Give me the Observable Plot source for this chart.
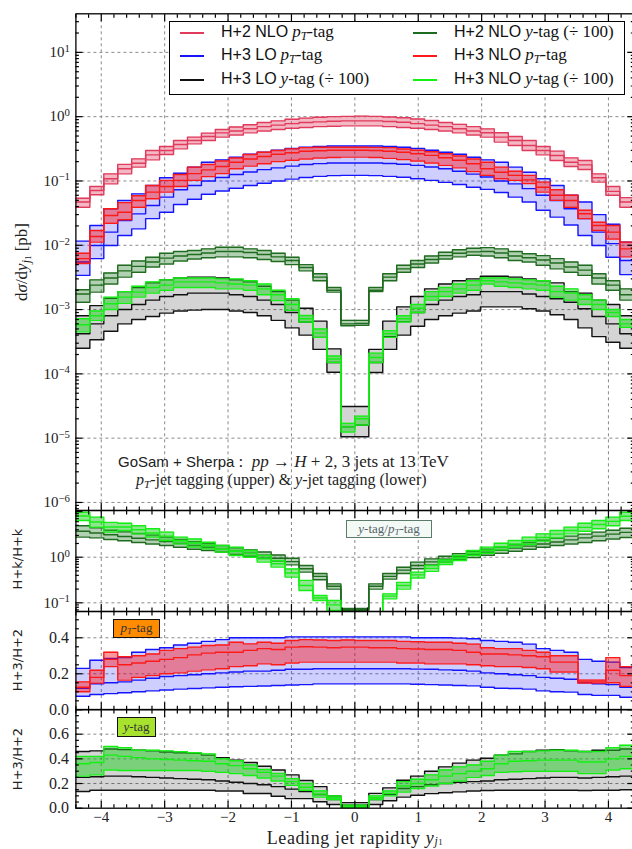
<!DOCTYPE html>
<html>
<head>
<meta charset="utf-8">
<script src="https://cdn.jsdelivr.net/npm/d3@7"></script>
<script src="https://cdn.jsdelivr.net/npm/@observablehq/plot@0.6"></script>
<style>
  html, body { margin: 0; padding: 0; background: #fff; overflow: hidden; }
  #fig { position: relative; width: 632px; height: 849px; overflow: hidden; background: #fff; }
  .serif { font-family: "Liberation Serif", "DejaVu Serif", serif; }
  .sans { font-family: "Liberation Sans", "DejaVu Sans", sans-serif; }
  .abs { position: absolute; white-space: nowrap; }
  .rot { position: absolute; white-space: nowrap; transform: translate(-50%, -50%) rotate(-90deg); }
  sub { font-size: 0.7em; vertical-align: -0.25em; line-height: 0; }
  sub.s2 { font-size: 0.75em; vertical-align: -0.15em; }
  sub.xl { font-size: 0.65em; vertical-align: -0.1em; }
  sub.xl2 { font-size: 0.75em; vertical-align: 0; }
  .legend { position: absolute; left: 169px; top: 21px; width: 454px; height: 72px; border: 1.3px solid #000; background: #fff; }
  .sw { position: absolute; height: 0; width: 24px; border-top: 2px solid; }
  .lt { position: absolute; line-height: 20px; color: #111; }
  .lt .sans { font-size: 16px; }
  .lt .serif { font-size: 17px; }
  .tagbox { position: absolute; line-height: 16px; font-size: 13px; text-align: center; box-sizing: border-box; }
</style>
</head>
<body>
<div id="fig"></div>
<script>
// Bin edges of the leading-jet rapidity histogram
const binEdges = [-4.4,-4.18,-3.96,-3.74,-3.52,-3.3,-3.08,-2.86,-2.64,-2.42,-2.2,-1.98,-1.76,-1.54,-1.32,-1.1,-0.88,-0.66,-0.44,-0.22,0,
  0.22,0.44,0.66,0.88,1.1,1.32,1.54,1.76,1.98,2.2,2.42,2.64,2.86,3.08,3.3,3.52,3.74,3.96,4.18,4.4];

// ---- dσ/dy [pb] : H+2 NLO, pT-jet tagging (lo / central / hi of scale band)
const h2ptLo  = [0.039,0.061,0.090,0.129,0.164,0.213,0.258,0.316,0.378,0.426,0.48,0.52,0.56,0.60,0.63,0.66,0.68,0.70,0.71,0.72,
                 0.72,0.72,0.70,0.68,0.66,0.63,0.60,0.56,0.52,0.481,0.402,0.356,0.298,0.255,0.208,0.168,0.151,0.096,0.060,0.039];
const h2ptMid = [0.047,0.071,0.108,0.155,0.189,0.255,0.298,0.369,0.426,0.492,0.56,0.60,0.65,0.70,0.74,0.78,0.81,0.83,0.85,0.86,
                 0.86,0.86,0.84,0.82,0.78,0.74,0.70,0.65,0.60,0.561,0.481,0.426,0.356,0.298,0.249,0.196,0.178,0.112,0.069,0.047];
const h2ptHi  = [0.054,0.082,0.129,0.181,0.221,0.298,0.344,0.425,0.48,0.554,0.63,0.69,0.75,0.81,0.86,0.91,0.95,0.98,1.0,1.01,
                 1.02,1.01,0.99,0.96,0.92,0.87,0.81,0.76,0.70,0.647,0.561,0.492,0.426,0.344,0.291,0.229,0.208,0.129,0.082,0.055];

// H+3 LO, pT-jet tagging
const h3loptLo  = [0.0034,0.0062,0.0099,0.0142,0.018,0.026,0.0327,0.043,0.052,0.062,0.070,0.077,0.085,0.092,0.100,0.107,0.113,0.118,0.121,0.122,
                   0.122,0.121,0.118,0.114,0.108,0.102,0.095,0.088,0.080,0.074,0.066,0.056,0.047,0.035,0.0274,0.0207,0.0142,0.0099,0.0065,0.0035];
const h3loptMid = [0.0055,0.0099,0.016,0.0243,0.0308,0.0416,0.056,0.073,0.085,0.100,0.113,0.126,0.138,0.150,0.160,0.170,0.180,0.186,0.19,0.19,
                   0.19,0.19,0.187,0.182,0.175,0.165,0.155,0.142,0.128,0.115,0.100,0.090,0.076,0.060,0.0497,0.037,0.026,0.016,0.0106,0.0058];
const h3loptHi  = [0.0116,0.0203,0.0369,0.0497,0.063,0.085,0.112,0.132,0.164,0.196,0.213,0.234,0.26,0.28,0.30,0.32,0.335,0.345,0.35,0.35,
                   0.35,0.35,0.345,0.335,0.32,0.30,0.28,0.26,0.234,0.213,0.196,0.164,0.137,0.108,0.085,0.060,0.047,0.030,0.0212,0.0112];

// H+3 NLO, pT-jet tagging
const h3nloptLo  = [0.0052,0.0112,0.022,0.0249,0.039,0.053,0.067,0.082,0.102,0.117,0.13,0.155,0.17,0.185,0.20,0.21,0.22,0.228,0.232,0.235,
                    0.235,0.232,0.225,0.215,0.205,0.19,0.175,0.16,0.14,0.122,0.108,0.102,0.091,0.067,0.05,0.039,0.026,0.017,0.0125,0.0066];
const h3nloptMid = [0.0062,0.0137,0.029,0.0327,0.0497,0.067,0.082,0.102,0.13,0.149,0.168,0.195,0.22,0.24,0.26,0.275,0.29,0.295,0.30,0.30,
                    0.30,0.297,0.29,0.28,0.265,0.25,0.23,0.21,0.185,0.155,0.137,0.122,0.104,0.08,0.06,0.0497,0.031,0.0203,0.016,0.0088];
const h3nloptHi  = [0.0075,0.017,0.037,0.046,0.059,0.085,0.102,0.126,0.164,0.18,0.205,0.228,0.258,0.28,0.298,0.316,0.33,0.335,0.335,0.335,
                    0.335,0.333,0.33,0.315,0.30,0.285,0.265,0.245,0.22,0.196,0.164,0.142,0.122,0.096,0.073,0.06,0.035,0.0228,0.0203,0.0112];

// y-jet tagging curves, shown divided by 100
const h2yLo  = [0.0013,0.00187,0.0025,0.0032,0.0038,0.0046,0.0051,0.0057,0.0061,0.0064,0.0066,0.0066,0.0064,0.006,0.0056,0.005,0.004,0.0028,0.00187,0.00056,
                0.00057,0.0019,0.0028,0.0038,0.0045,0.0053,0.0061,0.0066,0.007,0.0068,0.0064,0.0058,0.0055,0.0049,0.0043,0.0038,0.0034,0.0025,0.002,0.0014];
const h2yMid = [0.00175,0.0024,0.0031,0.004,0.0047,0.0055,0.0063,0.0068,0.0072,0.0076,0.008,0.008,0.0077,0.0072,0.0066,0.0058,0.0045,0.0032,0.002,0.0006,
                0.00061,0.002,0.0032,0.0043,0.0051,0.006,0.0069,0.0075,0.0079,0.008,0.0076,0.0068,0.0064,0.0059,0.0053,0.0046,0.0041,0.0031,0.0024,0.0017];
const h2yHi  = [0.00203,0.0029,0.0037,0.0049,0.0057,0.0065,0.0075,0.008,0.0083,0.0088,0.0093,0.0093,0.0088,0.0083,0.0075,0.0065,0.005,0.0036,0.0022,0.00068,
                0.00068,0.0022,0.0036,0.0049,0.0058,0.0068,0.0078,0.0085,0.009,0.0092,0.0088,0.008,0.0074,0.0069,0.0062,0.0055,0.0049,0.0036,0.0028,0.0021];

const h3loyLo  = [0.00025,0.00034,0.00046,0.0006,0.0007,0.00078,0.00088,0.00095,0.00098,0.001,0.001,0.00095,0.0009,0.0008,0.00068,0.00052,0.0004,0.00024,0.000106,0.0000105,
                  0.0000105,0.000105,0.00024,0.0004,0.00055,0.0007,0.0008,0.00088,0.00095,0.0011,0.0011,0.0011,0.00103,0.00095,0.00083,0.0007,0.00052,0.00038,0.00031,0.00025];
const h3loyMid = [0.00042,0.0006,0.0008,0.001,0.0012,0.0014,0.0016,0.0017,0.0018,0.0018,0.0018,0.0017,0.0016,0.0014,0.0012,0.0009,0.00064,0.00037,0.00015,0.000015,
                  0.000016,0.00015,0.00038,0.00065,0.0009,0.0012,0.0014,0.0016,0.0017,0.0019,0.0019,0.0019,0.00175,0.0016,0.00147,0.0013,0.00103,0.00078,0.0006,0.00042];
const h3loyHi  = [0.0008,0.00115,0.0015,0.0019,0.0022,0.0026,0.0029,0.0031,0.0032,0.0032,0.0031,0.0029,0.0027,0.0023,0.0019,0.0014,0.00105,0.00066,0.000245,0.000031,
                  0.000031,0.00024,0.00066,0.0011,0.0016,0.0021,0.0025,0.0028,0.003,0.0033,0.0033,0.0032,0.003,0.0028,0.0026,0.0019,0.0018,0.0014,0.0012,0.0008];

const h3nloyLo  = [0.00045,0.00068,0.001,0.00125,0.00156,0.0018,0.002,0.0022,0.0022,0.0022,0.0021,0.0021,0.002,0.0017,0.00138,0.00097,0.00064,0.00037,0.00015,0.0000125,
                   0.000016,0.00015,0.00037,0.00064,0.0009,0.0014,0.0016,0.0018,0.002,0.0025,0.0023,0.0022,0.0021,0.002,0.00156,0.0014,0.0012,0.001,0.00078,0.00053];
const h3nloyMid = [0.00058,0.0008,0.00123,0.00156,0.00187,0.0022,0.0024,0.0027,0.0027,0.0027,0.0026,0.0025,0.0024,0.0021,0.0017,0.0012,0.00072,0.00043,0.00017,0.000015,
                   0.00002,0.00018,0.00042,0.00072,0.00105,0.0016,0.0019,0.0021,0.0024,0.0028,0.0027,0.0026,0.0025,0.0024,0.0019,0.0018,0.00145,0.0012,0.0009,0.0006];
const h3nloyHi  = [0.00072,0.00095,0.00156,0.0019,0.0023,0.0027,0.0029,0.0031,0.0031,0.0031,0.003,0.003,0.0028,0.0025,0.002,0.00147,0.00081,0.0005,0.00019,0.000017,
                   0.000022,0.00021,0.00047,0.0008,0.0012,0.0019,0.0022,0.0025,0.0028,0.0031,0.0031,0.003,0.0029,0.0028,0.0023,0.0021,0.0017,0.0014,0.001,0.0007];

// ---- ratio y-tag / pT-tag
const rH2Lo  = [2.75,2.65,2.45,2.3,2.1,1.95,1.8,1.65,1.5,1.4,1.3,1.15,1.05,0.95,0.82,0.68,0.47,0.32,0.2,0.068,
                0.068,0.2,0.33,0.44,0.56,0.68,0.78,0.88,0.98,1.1,1.22,1.35,1.5,1.65,1.8,1.95,2.1,2.3,2.5,2.7];
const rH2Mid = [3.7,3.4,3.1,2.85,2.6,2.4,2.2,2.0,1.8,1.65,1.5,1.35,1.22,1.1,0.95,0.8,0.56,0.38,0.23,0.071,
                0.071,0.23,0.38,0.52,0.66,0.79,0.9,1.02,1.15,1.28,1.42,1.58,1.75,1.95,2.15,2.4,2.65,2.9,3.2,3.5];
const rH2Hi  = [4.9,4.4,3.9,3.6,3.3,3.05,2.75,2.45,2.2,2.0,1.8,1.6,1.45,1.3,1.12,0.95,0.66,0.44,0.26,0.075,
                0.075,0.26,0.44,0.6,0.78,0.92,1.05,1.2,1.35,1.5,1.68,1.88,2.1,2.35,2.6,2.9,3.2,3.55,3.9,4.3];
const rH3Lo  = [6.4,4.56,3.55,3.85,3.25,2.75,2.32,1.96,1.66,1.52,1.29,1.09,1.0,0.78,0.605,0.365,0.186,0.112,0.068,0.03,
                0.03,0.04,0.122,0.2,0.35,0.49,0.69,0.85,1.09,1.22,1.45,1.66,1.9,2.25,2.65,3.25,3.7,4.2,4.9,6.4];
const rH3Mid = [8.0,5.9,4.6,4.6,4.0,3.4,2.9,2.3,2.05,1.8,1.5,1.35,1.2,0.92,0.72,0.45,0.24,0.128,0.09,0.04,
                0.04,0.05,0.14,0.24,0.41,0.57,0.78,0.96,1.23,1.42,1.7,1.95,2.3,2.7,3.2,3.85,4.5,5.2,6.1,7.9];
const rH3Hi  = [9.7,7.55,5.8,5.55,4.9,4.2,3.55,2.75,2.5,2.13,1.8,1.66,1.4,1.09,0.85,0.55,0.31,0.145,0.112,0.05,
                0.05,0.06,0.157,0.28,0.47,0.66,0.87,1.09,1.4,1.66,2.03,2.32,2.75,3.25,3.85,4.56,5.55,6.4,7.55,9.7];

// ---- ratio H+3 / H+2, pT-jet tagging
const rPtLoLo  = [0.075,0.085,0.09,0.095,0.10,0.105,0.11,0.115,0.118,0.122,0.125,0.128,0.13,0.132,0.135,0.138,0.14,0.144,0.144,0.144,
                  0.144,0.144,0.144,0.144,0.142,0.14,0.138,0.135,0.133,0.125,0.12,0.118,0.115,0.105,0.10,0.098,0.085,0.08,0.08,0.07];
const rPtLoMid = [0.12,0.145,0.15,0.155,0.165,0.175,0.185,0.19,0.195,0.20,0.205,0.21,0.215,0.215,0.22,0.225,0.225,0.228,0.228,0.228,
                  0.228,0.228,0.228,0.228,0.226,0.225,0.222,0.22,0.215,0.205,0.20,0.195,0.19,0.18,0.175,0.17,0.15,0.145,0.14,0.125];
const rPtLoHi  = [0.23,0.275,0.285,0.29,0.32,0.335,0.345,0.36,0.37,0.38,0.39,0.40,0.40,0.40,0.40,0.405,0.405,0.405,0.405,0.405,
                  0.405,0.405,0.405,0.405,0.40,0.40,0.40,0.398,0.395,0.385,0.38,0.375,0.365,0.34,0.33,0.32,0.28,0.27,0.265,0.235];
const rPtNloLo  = [0.10,0.148,0.24,0.165,0.18,0.19,0.20,0.205,0.215,0.222,0.228,0.24,0.245,0.255,0.25,0.26,0.265,0.265,0.265,0.265,
                   0.265,0.265,0.265,0.26,0.26,0.255,0.255,0.255,0.25,0.245,0.24,0.24,0.235,0.228,0.21,0.21,0.148,0.148,0.15,0.13];
const rPtNloMid = [0.125,0.18,0.28,0.25,0.26,0.27,0.28,0.29,0.305,0.315,0.32,0.32,0.33,0.34,0.335,0.348,0.35,0.348,0.345,0.348,
                   0.348,0.345,0.345,0.34,0.338,0.335,0.335,0.33,0.32,0.31,0.31,0.305,0.30,0.295,0.265,0.265,0.155,0.155,0.22,0.19];
const rPtNloHi  = [0.155,0.22,0.32,0.295,0.30,0.31,0.33,0.34,0.348,0.357,0.36,0.375,0.366,0.375,0.37,0.385,0.39,0.388,0.385,0.388,
                   0.385,0.385,0.385,0.38,0.378,0.375,0.375,0.37,0.365,0.345,0.34,0.34,0.33,0.32,0.30,0.30,0.165,0.165,0.29,0.24];

// ---- ratio H+3 / H+2, y-jet tagging
const rYLoLo  = [0.135,0.146,0.146,0.146,0.146,0.146,0.146,0.146,0.146,0.146,0.14,0.14,0.119,0.119,0.097,0.078,0.078,0.052,0.03,0.008,
                 0.008,0.03,0.06,0.09,0.105,0.118,0.125,0.132,0.14,0.143,0.145,0.145,0.145,0.145,0.145,0.145,0.143,0.145,0.146,0.15];
const rYLoMid = [0.25,0.255,0.26,0.26,0.255,0.25,0.245,0.24,0.235,0.23,0.22,0.21,0.20,0.19,0.175,0.155,0.135,0.11,0.07,0.025,
                 0.025,0.07,0.11,0.16,0.175,0.19,0.20,0.21,0.215,0.22,0.23,0.235,0.24,0.245,0.25,0.25,0.245,0.25,0.255,0.26];
const rYLoHi  = [0.46,0.465,0.48,0.475,0.47,0.465,0.455,0.45,0.445,0.43,0.41,0.39,0.37,0.34,0.31,0.27,0.225,0.175,0.10,0.045,
                 0.045,0.12,0.165,0.227,0.26,0.30,0.335,0.365,0.39,0.405,0.43,0.44,0.46,0.47,0.475,0.465,0.46,0.47,0.47,0.48];
const rYNloLo  = [0.26,0.27,0.31,0.305,0.305,0.305,0.305,0.305,0.305,0.30,0.29,0.28,0.265,0.245,0.22,0.185,0.145,0.09,0.07,0.005,
                  0.005,0.07,0.10,0.13,0.16,0.18,0.20,0.22,0.25,0.265,0.29,0.295,0.30,0.30,0.30,0.30,0.28,0.28,0.31,0.32];
const rYNloMid = [0.36,0.37,0.43,0.42,0.41,0.40,0.395,0.39,0.385,0.38,0.36,0.345,0.32,0.29,0.26,0.215,0.17,0.115,0.085,0.015,
                  0.015,0.085,0.12,0.18,0.20,0.23,0.26,0.28,0.30,0.32,0.36,0.38,0.385,0.39,0.39,0.39,0.375,0.375,0.40,0.42];
const rYNloHi  = [0.42,0.42,0.50,0.49,0.47,0.47,0.465,0.457,0.45,0.44,0.40,0.384,0.35,0.314,0.282,0.24,0.20,0.14,0.10,0.025,
                  0.025,0.10,0.14,0.215,0.235,0.27,0.31,0.335,0.35,0.38,0.43,0.46,0.46,0.465,0.47,0.47,0.46,0.46,0.49,0.51];

// ---- tick values
const xMajorTicks = [-4, -3, -2, -1, 0, 1, 2, 3, 4];
const xMinorTicks = d3.range(-44, 45, 2).map(d => d / 10).filter(d => !Number.isInteger(d));
const mainDecades = [1e-6, 1e-5, 1e-4, 1e-3, 1e-2, 1e-1, 1, 10];
const r1Decades = [0.1, 1, 10];
const r2Ticks = [0, 0.2, 0.4];
const r3Ticks = [0, 0.2, 0.4, 0.6];

// ---- styles of the six predictions
const S = {
  h2pt:   {stroke: "#e03a5c", fill: "#dc143c", fillOpacity: 0.3},
  h3lopt: {stroke: "#1414ff", fill: "#0000ff", fillOpacity: 0.19},
  h3nlopt:{stroke: "#ff1a1a", fill: "#ff0000", fillOpacity: 0.4},
  h2y:    {stroke: "#1f6b1f", fill: "#006400", fillOpacity: 0.3},
  h3loy:  {stroke: "#111111", fill: "#000000", fillOpacity: 0.17},
  h3nloy: {stroke: "#14f014", fill: "#22cc22", fillOpacity: 0.5}
};

const X0 = 75.4, WIDTH = 632, MR = -1.3;

function minorLog(domain) {
  const out = [];
  for (let e = -8; e <= 2; e++) for (let k = 2; k <= 9; k++) {
    const v = k * Math.pow(10, e);
    if (v > domain[0] && v < domain[1]) out.push(v);
  }
  return out;
}

function stepRows(lo, mid, hi) {
  return binEdges.map((x, i) => {
    const j = Math.min(i, lo.length - 1);
    return {x, lo: lo[j], mid: mid[j], hi: hi[j]};
  });
}

function band(lo, mid, hi, st) {
  const rows = stepRows(lo, mid, hi);
  return [
    Plot.areaY(rows, {x: "x", y1: "lo", y2: "hi", curve: "step-after", fill: st.fill, fillOpacity: st.fillOpacity, clip: true}),
    ...["lo", "mid", "hi"].map(k =>
      Plot.line(rows, {x: "x", y: k, curve: "step-after", stroke: st.stroke, strokeWidth: 1.4, clip: true}))
  ];
}

function xFrameMarks(withLabels) {
  const tk = {stroke: "#000", strokeWidth: 1.2, fill: "none", label: null};
  const m = [
    Plot.axisX(xMajorTicks, {anchor: "top", tickSize: -7, ...tk}),
    Plot.axisX(xMajorTicks, {anchor: "bottom", tickSize: -7, ...tk}),
    Plot.axisX(xMinorTicks, {anchor: "top", tickSize: -3.5, ...tk}),
    Plot.axisX(xMinorTicks, {anchor: "bottom", tickSize: -3.5, ...tk})
  ];
  if (withLabels) m.push(Plot.axisX(xMajorTicks, {anchor: "bottom", tickSize: 0, tickPadding: 3, fontSize: 15, fill: "#222", label: null}));
  return m;
}

function yFrameMarks(major, minor, labels, fmt, fontSize, pad) {
  const tk = {stroke: "#000", strokeWidth: 1.2, fill: "none", label: null};
  return [
    Plot.axisY(major, {anchor: "left", tickSize: -7, ...tk}),
    Plot.axisY(major, {anchor: "right", tickSize: -7, ...tk}),
    Plot.axisY(minor, {anchor: "left", tickSize: -3.5, ...tk}),
    Plot.axisY(minor, {anchor: "right", tickSize: -3.5, ...tk}),
    Plot.axisY(labels, {anchor: "left", tickSize: 0, tickPadding: pad, tickFormat: fmt, fontSize, fill: "#222", label: null})
  ];
}

const grid = {stroke: "#8a8a8a", strokeOpacity: 1, strokeDasharray: "3,3", strokeWidth: 1};
const logFmt = d => "10^" + String(Math.round(Math.log10(d))).replace("-", "\u2212");

function panel({top, height, marginTop = 0, marginBottom = 0, y, marks}) {
  const svg = Plot.plot({
    width: WIDTH, height, marginLeft: X0, marginRight: MR, marginTop, marginBottom,
    x: {domain: [-4.4, 4.4], label: null},
    y: {...y, label: null},
    style: {fontFamily: "'Liberation Serif', serif", background: "transparent"},
    marks
  });
  svg.style.position = "absolute";
  svg.style.left = "0px";
  svg.style.top = top + "px";
  svg.style.maxWidth = "none";
  svg.style.height = height + "px";
  svg.style.background = "transparent";
  svg.style.overflow = "visible";
  // exponent of the decade labels as superscript
  svg.querySelectorAll("text").forEach(t => {
    const m = t.textContent.match(/^10\^(.+)$/);
    if (!m) return;
    t.textContent = "10";
    const ts = document.createElementNS("http://www.w3.org/2000/svg", "tspan");
    ts.setAttribute("dy", "-0.5em");
    ts.setAttribute("font-size", "0.72em");
    ts.textContent = m[1];
    t.appendChild(ts);
  });
  document.getElementById("fig").appendChild(svg);
  return svg;
}

// ---- main panel: dσ/dy
const mainDomain = [7.5e-7, 39.8];
panel({
  top: 0, height: 510, marginTop: 13.3,
  y: {type: "log", domain: mainDomain},
  marks: [
    Plot.gridX(xMajorTicks, grid),
    Plot.gridY(mainDecades, grid),
    ...band(h2ptLo, h2ptMid, h2ptHi, S.h2pt),
    ...band(h3loptLo, h3loptMid, h3loptHi, S.h3lopt),
    ...band(h3nloptLo, h3nloptMid, h3nloptHi, S.h3nlopt),
    ...band(h2yLo, h2yMid, h2yHi, S.h2y),
    ...band(h3loyLo, h3loyMid, h3loyHi, S.h3loy),
    ...band(h3nloyLo, h3nloyMid, h3nloyHi, S.h3nloy),
    Plot.frame({stroke: "#000", strokeWidth: 1.3}),
    ...xFrameMarks(false),
    ...yFrameMarks(mainDecades, minorLog(mainDomain), mainDecades, logFmt, 15, 6)
  ]
});

// ---- ratio y-tag / pT-tag
const r1Domain = [0.0645, 10.57];
panel({
  top: 510, height: 101,
  y: {type: "log", domain: r1Domain},
  marks: [
    Plot.gridX(xMajorTicks, grid),
    Plot.gridY([0.1, 1], grid),
    ...band(rH2Lo, rH2Mid, rH2Hi, S.h2y),
    ...band(rH3Lo, rH3Mid, rH3Hi, S.h3nloy),
    Plot.frame({stroke: "#000", strokeWidth: 1.3}),
    ...xFrameMarks(false),
    ...yFrameMarks(r1Decades, minorLog(r1Domain), [0.1, 1], logFmt, 15, 6)
  ]
});

// ---- ratio H+3 / H+2 with pT-jet tagging
panel({
  top: 611, height: 98.3,
  y: {domain: [0, 0.546]},
  marks: [
    Plot.gridX(xMajorTicks, grid),
    Plot.gridY([0.2, 0.4], grid),
    ...band(rPtLoLo, rPtLoMid, rPtLoHi, S.h3lopt),
    ...band(rPtNloLo, rPtNloMid, rPtNloHi, S.h3nlopt),
    Plot.frame({stroke: "#000", strokeWidth: 1.3}),
    ...xFrameMarks(false),
    ...yFrameMarks(r2Ticks, d3.range(0.05, 0.546, 0.05).filter(v => Math.abs(v * 5 - Math.round(v * 5)) > 1e-6), r2Ticks, d3.format(".1f"), 16, 7)
  ]
});

// ---- ratio H+3 / H+2 with y-jet tagging
panel({
  top: 709.3, height: 140, marginBottom: 41.3,
  y: {domain: [0, 0.8]},
  marks: [
    Plot.gridX(xMajorTicks, grid),
    Plot.gridY([0.2, 0.4, 0.6], grid),
    ...band(rYLoLo, rYLoMid, rYLoHi, S.h3loy),
    ...band(rYNloLo, rYNloMid, rYNloHi, S.h3nloy),
    Plot.frame({stroke: "#000", strokeWidth: 1.3}),
    ...xFrameMarks(true),
    ...yFrameMarks(r3Ticks, d3.range(0.05, 0.8, 0.05).filter(v => Math.abs(v * 5 - Math.round(v * 5)) > 1e-6), r3Ticks, d3.format(".1f"), 16, 7)
  ]
});

// ---- text and legend
const fig = document.getElementById("fig");
function addHTML(html) { fig.insertAdjacentHTML("beforeend", html); }

const legendRows = [
  {col: 0, row: 0, color: S.h2pt.stroke,    html: '<span class="sans">H+2 NLO</span> <span class="serif"><i>p<sub>T</sub></i>-tag</span>'},
  {col: 0, row: 1, color: S.h3lopt.stroke,  html: '<span class="sans">H+3 LO</span> <span class="serif"><i>p<sub>T</sub></i>-tag</span>'},
  {col: 0, row: 2, color: S.h3loy.stroke,   html: '<span class="sans">H+3 LO</span> <span class="serif"><i>y</i>-tag (÷ 100)</span>'},
  {col: 1, row: 0, color: S.h2y.stroke,     html: '<span class="sans">H+2 NLO</span> <span class="serif"><i>y</i>-tag (÷ 100)</span>'},
  {col: 1, row: 1, color: S.h3nlopt.stroke, html: '<span class="sans">H+3 NLO</span> <span class="serif"><i>p<sub>T</sub></i>-tag</span>'},
  {col: 1, row: 2, color: S.h3nloy.stroke,  html: '<span class="sans">H+3 NLO</span> <span class="serif"><i>y</i>-tag (÷ 100)</span>'}
];
const rowY = [33, 56, 80];
const swX = [180, 413], txX = [221, 454];
addHTML('<div class="legend"></div>');
legendRows.forEach(d => {
  addHTML(`<div class="sw" style="left:${swX[d.col]}px;top:${rowY[d.row] - 1}px;border-color:${d.color}"></div>`);
  addHTML(`<div class="lt abs" style="left:${txX[d.col]}px;top:${rowY[d.row] - 11}px">${d.html}</div>`);
});

addHTML('<div class="abs" style="left:118px;top:452px;font-size:17px;line-height:20px;color:#222">' +
  '<span class="sans" style="font-size:15px">GoSam + Sherpa</span><span class="serif"> : &nbsp;<i>pp</i> → <i>H</i> + 2, 3 jets at 13 TeV</span></div>');
addHTML('<div class="abs serif" style="left:136px;top:471px;font-size:16px;line-height:18px;color:#222">' +
  '<i>p<sub>T</sub></i>-jet tagging (upper) &amp; <i>y</i>-jet tagging (lower)</div>');

addHTML('<div class="rot serif" style="left:22px;top:262px;font-size:17px;color:#222">d<i>σ</i>/d<i>y</i><sub><i>j</i><sub class="s2">1</sub></sub> [pb]</div>');
addHTML('<div class="rot" style="left:17px;top:559px;font-size:13px;font-family:\'DejaVu Sans\',sans-serif;color:#222">H+k/H+k</div>');
addHTML('<div class="rot" style="left:17px;top:660px;font-size:13px;font-family:\'DejaVu Sans\',sans-serif;color:#222">H+3/H+2</div>');
addHTML('<div class="rot" style="left:17px;top:759px;font-size:13px;font-family:\'DejaVu Sans\',sans-serif;color:#222">H+3/H+2</div>');

addHTML('<div class="tagbox serif" style="left:346px;top:520px;width:86px;height:18px;background:#f3faf6;border:1.5px solid #5d7b6c;color:#56646a"><i>y</i>-tag/<i>p<sub>T</sub></i>-tag</div>');
addHTML('<div class="tagbox serif" style="left:113px;top:619px;width:47px;height:19px;background:#ff8c00;border:1.5px solid #111;color:#333"><i>p<sub>T</sub></i>-tag</div>');
addHTML('<div class="tagbox serif" style="left:117px;top:717px;width:39px;height:20px;background:#a6e22e;border:1.5px solid #111;color:#333;line-height:17px"><i>y</i>-tag</div>');

addHTML('<div class="abs serif" style="left:355px;top:838px;transform:translate(-50%,-50%);font-size:18px;line-height:16px;letter-spacing:0.6px;color:#222">Leading jet rapidity <i>y</i><sub class="xl"><i>j</i><sub class="xl2">1</sub></sub></div>');
</script>
</body>
</html>
